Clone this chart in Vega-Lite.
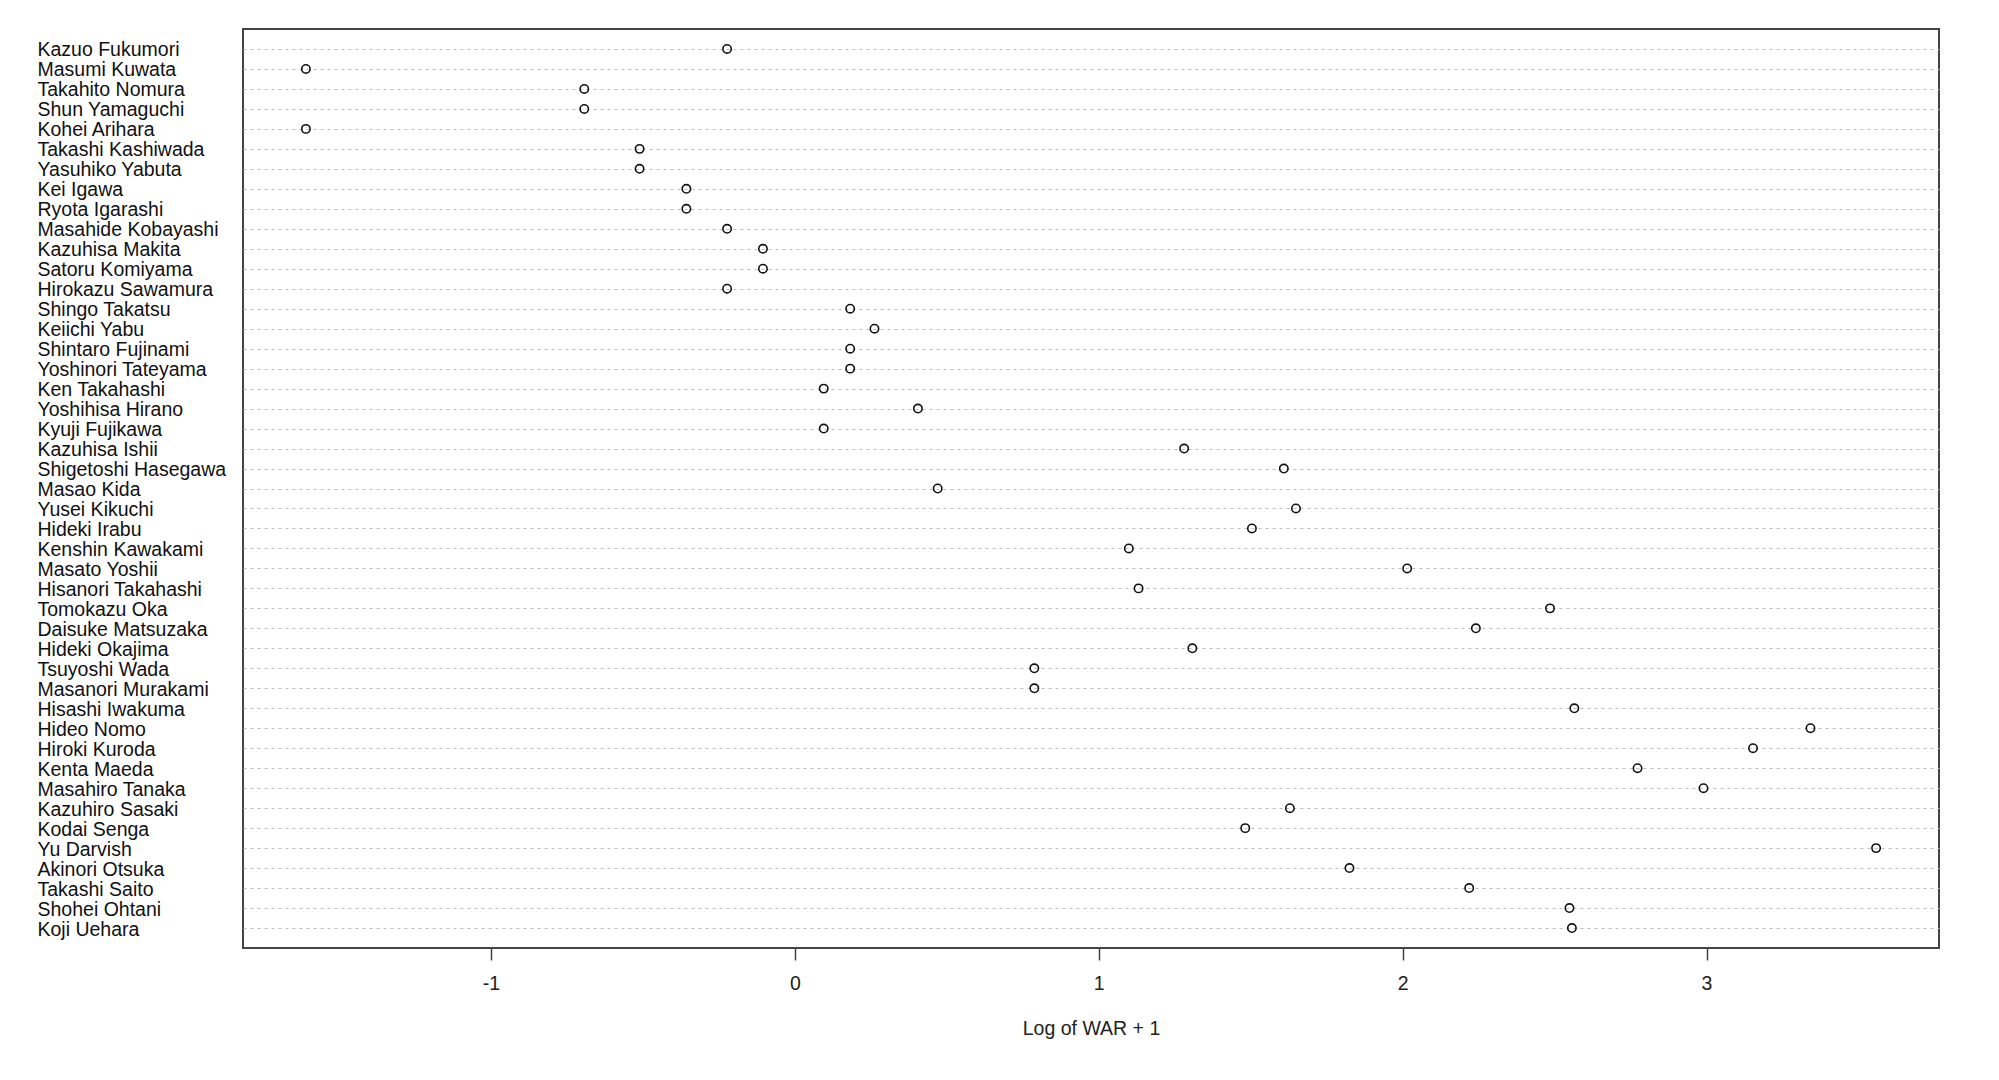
{
  "$schema": "https://vega.github.io/schema/vega-lite/v6.json",
  "width": 1696,
  "height": 919,
  "autosize": {"type": "none"},
  "padding": {"left": 243, "top": 29, "right": 60, "bottom": 132},
  "background": "white",
  "config": {
    "font": "Liberation Sans",
    "view": {"stroke": "#444444", "strokeWidth": 2}
  },
  "data": {
    "values": [
      {"player": "Kazuo Fukumori", "logwar": -0.223},
      {"player": "Masumi Kuwata", "logwar": -1.609},
      {"player": "Takahito Nomura", "logwar": -0.693},
      {"player": "Shun Yamaguchi", "logwar": -0.693},
      {"player": "Kohei Arihara", "logwar": -1.609},
      {"player": "Takashi Kashiwada", "logwar": -0.511},
      {"player": "Yasuhiko Yabuta", "logwar": -0.511},
      {"player": "Kei Igawa", "logwar": -0.357},
      {"player": "Ryota Igarashi", "logwar": -0.357},
      {"player": "Masahide Kobayashi", "logwar": -0.223},
      {"player": "Kazuhisa Makita", "logwar": -0.105},
      {"player": "Satoru Komiyama", "logwar": -0.105},
      {"player": "Hirokazu Sawamura", "logwar": -0.223},
      {"player": "Shingo Takatsu", "logwar": 0.182},
      {"player": "Keiichi Yabu", "logwar": 0.262},
      {"player": "Shintaro Fujinami", "logwar": 0.182},
      {"player": "Yoshinori Tateyama", "logwar": 0.182},
      {"player": "Ken Takahashi", "logwar": 0.095},
      {"player": "Yoshihisa Hirano", "logwar": 0.405},
      {"player": "Kyuji Fujikawa", "logwar": 0.095},
      {"player": "Kazuhisa Ishii", "logwar": 1.281},
      {"player": "Shigetoshi Hasegawa", "logwar": 1.609},
      {"player": "Masao Kida", "logwar": 0.47},
      {"player": "Yusei Kikuchi", "logwar": 1.649},
      {"player": "Hideki Irabu", "logwar": 1.504},
      {"player": "Kenshin Kawakami", "logwar": 1.099},
      {"player": "Masato Yoshii", "logwar": 2.015},
      {"player": "Hisanori Takahashi", "logwar": 1.131},
      {"player": "Tomokazu Oka", "logwar": 2.485},
      {"player": "Daisuke Matsuzaka", "logwar": 2.241},
      {"player": "Hideki Okajima", "logwar": 1.308},
      {"player": "Tsuyoshi Wada", "logwar": 0.788},
      {"player": "Masanori Murakami", "logwar": 0.788},
      {"player": "Hisashi Iwakuma", "logwar": 2.565},
      {"player": "Hideo Nomo", "logwar": 3.342},
      {"player": "Hiroki Kuroda", "logwar": 3.153},
      {"player": "Kenta Maeda", "logwar": 2.773},
      {"player": "Masahiro Tanaka", "logwar": 2.99},
      {"player": "Kazuhiro Sasaki", "logwar": 1.629},
      {"player": "Kodai Senga", "logwar": 1.482},
      {"player": "Yu Darvish", "logwar": 3.558},
      {"player": "Akinori Otsuka", "logwar": 1.825},
      {"player": "Takashi Saito", "logwar": 2.219},
      {"player": "Shohei Ohtani", "logwar": 2.549},
      {"player": "Koji Uehara", "logwar": 2.557}
    ]
  },
  "mark": {
    "type": "point",
    "shape": "circle",
    "filled": false,
    "stroke": "#111111",
    "strokeWidth": 1.6,
    "size": 70,
    "opacity": 1
  },
  "encoding": {
    "x": {
      "field": "logwar",
      "type": "quantitative",
      "scale": {"domain": [-1.816, 3.765], "nice": false, "zero": false},
      "axis": {
        "title": "Log of WAR + 1",
        "titleFont": "Liberation Sans",
        "titleFontSize": 19.5,
        "titleFontWeight": "normal",
        "titleColor": "#222222",
        "titlePadding": 27,
        "values": [-1, 0, 1, 2, 3],
        "labelExpr": "'' + datum.value",
        "domain": false,
        "grid": false,
        "tickSize": 12,
        "tickColor": "#444444",
        "tickWidth": 1.5,
        "labelFontSize": 19.5,
        "labelColor": "#222222",
        "labelPadding": 14
      }
    },
    "y": {
      "field": "player",
      "type": "nominal",
      "sort": null,
      "scale": {"type": "point", "padding": 1},
      "axis": {
        "title": null,
        "domain": false,
        "ticks": false,
        "labelAlign": "left",
        "labelPadding": 206,
        "labelLimit": 0,
        "labelFontSize": 19.5,
        "labelOffset": 1,
        "labelColor": "#111111",
        "grid": true,
        "gridColor": "#bdbdbd",
        "gridWidth": 1,
        "gridDash": [3, 4]
      }
    }
  }
}
